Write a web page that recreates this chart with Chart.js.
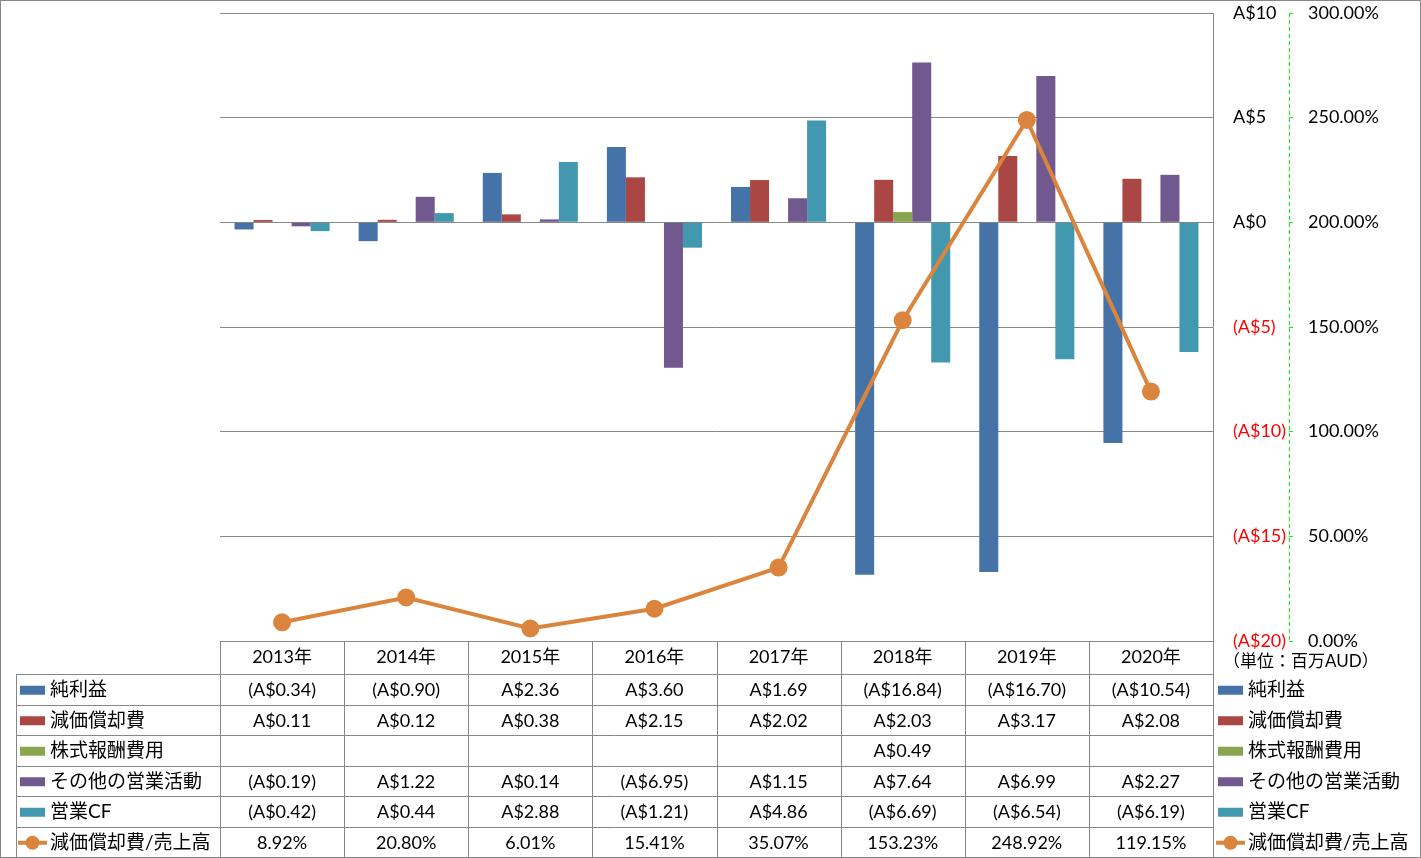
<!DOCTYPE html>
<html>
<head>
<meta charset="utf-8">
<script src="https://cdn.jsdelivr.net/npm/chart.js@4.4.0/dist/chart.umd.min.js"></script>
<style>
  html, body { margin: 0; padding: 0; background: #fff; }
  #wrap { width: 1421px; height: 858px; }
</style>
</head>
<body>
<div id="wrap"><canvas id="cf-chart" width="1421" height="858"></canvas></div>
<script>
'use strict';

// *************** DATA
let years = ['2013年', '2014年', '2015年', '2016年', '2017年', '2018年', '2019年', '2020年'];
let netIncome = [-0.34, -0.90, 2.36, 3.60, 1.69, -16.84, -16.70, -10.54];
let depreciation = [0.11, 0.12, 0.38, 2.15, 2.02, 2.03, 3.17, 2.08];
let stockComp = [null, null, null, null, null, 0.49, null, null];
let otherOps = [-0.19, 1.22, 0.14, -6.95, 1.15, 7.64, 6.99, 2.27];
let operatingCF = [-0.42, 0.44, 2.88, -1.21, 4.86, -6.69, -6.54, -6.19];
let depToSales = [8.92, 20.80, 6.01, 15.41, 35.07, 153.23, 248.92, 119.15];

let seriesNames = ['純利益', '減価償却費', '株式報酬費用', 'その他の営業活動', '営業CF', '減価償却費/売上高'];
let seriesColors = ['#4572A7', '#AA4643', '#89A54E', '#71588F', '#4198AF', '#DB843D'];
let unitLabel = '（単位：百万AUD）';

// *************** HELPERS
const LATIN = 'Lato, "Noto Sans CJK JP", sans-serif';
const GRID = '#878787';
const AXIS_GREEN = '#00FF00';

function fmtMoney(v, digits) {
  if (v === null || v === undefined) return '';
  let s = 'A$' + Math.abs(v).toFixed(digits);
  return v < 0 ? '(' + s + ')' : s;
}

function fmtPct(v) {
  return v.toFixed(2) + '%';
}

// keeps the right axes at fixed widths, no extra top/bottom room
function fixWidth(w) {
  return function (s) {
    s.width = w;
    s.paddingTop = 0;
    s.paddingBottom = 0;
  };
}

// *************** TABLE + LEGEND PLUGIN
let tablePlugin = {
  id: 'dataTable',
  afterDraw(chart) {
    let c = chart.ctx;
    let area = chart.chartArea;
    let xs = chart.scales.x;
    let y2 = chart.scales.y2;
    let colW = (area.right - area.left) / years.length;
    let headH = 33;
    let rowH = 30.5;
    let top = area.bottom;
    let rowsTop = top + headH;
    let bottom = rowsTop + rowH * 6;
    let rows = [netIncome, depreciation, stockComp, otherOps, operatingCF, depToSales];

    c.save();

    // dashed green line of the % axis
    c.strokeStyle = AXIS_GREEN;
    c.lineWidth = 1;
    c.setLineDash([4, 3]);
    c.beginPath();
    c.moveTo(Math.round(y2.left) + 0.5, area.top);
    c.lineTo(Math.round(y2.left) + 0.5, area.bottom);
    c.stroke();
    c.setLineDash([]);

    c.strokeStyle = GRID;
    c.beginPath();
    // horizontal lines
    for (let r = 0; r <= 6; r++) {
      let y = Math.round(rowsTop + r * rowH) + 0.5;
      c.moveTo(16, y);
      c.lineTo(area.right, y);
    }
    // vertical lines
    c.moveTo(16.5, rowsTop);
    c.lineTo(16.5, bottom);
    for (let i = 0; i <= years.length; i++) {
      let x = Math.round(area.left + i * colW) + 0.5;
      c.moveTo(x, top);
      c.lineTo(x, bottom);
    }
    c.stroke();

    // cell values
    c.fillStyle = '#000';
    c.font = '18px ' + LATIN;
    c.textAlign = 'center';
    c.textBaseline = 'middle';
    for (let r = 0; r < rows.length; r++) {
      let y = rowsTop + r * rowH + rowH / 2 + 1;
      for (let i = 0; i < years.length; i++) {
        let v = rows[r][i];
        let txt = r === 5 ? fmtPct(v) : fmtMoney(v, 2);
        c.fillText(txt, xs.getPixelForValue(i), y);
      }
    }

    // legend keys, left (inside table) and right
    c.textAlign = 'left';
    c.font = '19px ' + LATIN;
    for (let r = 0; r < rows.length; r++) {
      let y = rowsTop + r * rowH + rowH / 2 + 1;
      [20, area.right + 5].forEach(function (kx) {
        if (r < 5) {
          c.fillStyle = seriesColors[r];
          c.fillRect(kx, y - 4.5, 25, 9);
        } else {
          c.strokeStyle = seriesColors[5];
          c.lineWidth = 4;
          c.beginPath();
          c.moveTo(kx - 2, y);
          c.lineTo(kx + 27, y);
          c.stroke();
          c.fillStyle = seriesColors[5];
          c.beginPath();
          c.arc(kx + 12.5, y, 7, 0, Math.PI * 2);
          c.fill();
        }
        c.fillStyle = '#000';
        c.fillText(seriesNames[r], kx + 30, y);
      });
    }

    // unit note
    c.font = '17px ' + LATIN;
    c.fillText(unitLabel, area.right + 10, top + 21);

    // outer border
    c.strokeStyle = GRID;
    c.lineWidth = 1;
    c.strokeRect(0.5, 0.5, chart.width - 1, chart.height - 1);
    c.restore();
  }
};

// *************** CHART
let ctx = document.getElementById('cf-chart');

let barSets = [netIncome, depreciation, stockComp, otherOps, operatingCF].map(function (arr, i) {
  return {
    type: 'bar',
    label: seriesNames[i],
    data: arr,
    backgroundColor: seriesColors[i],
    yAxisID: 'y',
    order: 2,
    categoryPercentage: 0.766,
    barPercentage: 1.0
  };
});

let lineSet = {
  type: 'line',
  label: seriesNames[5],
  data: depToSales,
  yAxisID: 'y2',
  borderColor: seriesColors[5],
  backgroundColor: seriesColors[5],
  borderWidth: 4,
  pointRadius: 9,
  pointBorderWidth: 0,
  pointBackgroundColor: seriesColors[5],
  tension: 0,
  order: 0
};

new Chart(ctx, {
  type: 'bar',
  data: {
    labels: years,
    datasets: [lineSet].concat(barSets)
  },
  options: {
    responsive: false,
    animation: false,
    events: [],
    layout: {
      padding: { left: 220, right: 32, top: 13, bottom: 190 }
    },
    plugins: {
      legend: { display: false },
      tooltip: { enabled: false }
    },
    scales: {
      x: {
        offset: true,
        grid: { display: false, drawTicks: false },
        border: { display: false },
        afterFit: function (s) { s.height = 27; },
        ticks: {
          padding: 5,
          color: '#000',
          font: { family: LATIN, size: 18 }
        }
      },
      y: {
        position: 'right',
        min: -20,
        max: 10,
        afterFit: fixWidth(76),
        ticks: {
          stepSize: 5,
          padding: 20,
          font: { family: LATIN, size: 18 },
          color: function (c) { return c.tick.value < 0 ? '#FF0000' : '#000'; },
          callback: function (v) { return fmtMoney(v, 0); }
        },
        grid: { color: GRID, drawTicks: false, lineWidth: 1 },
        border: { display: true, color: GRID }
      },
      y2: {
        position: 'right',
        min: 0,
        max: 300,
        afterFit: fixWidth(100),
        ticks: {
          stepSize: 50,
          padding: 15,
          color: '#000',
          font: { family: LATIN, size: 18 },
          callback: function (v) { return fmtPct(v); }
        },
        grid: { drawOnChartArea: false, color: AXIS_GREEN, tickLength: 4 },
        border: { display: false }
      }
    }
  },
  plugins: [tablePlugin]
});
</script>
</body>
</html>
